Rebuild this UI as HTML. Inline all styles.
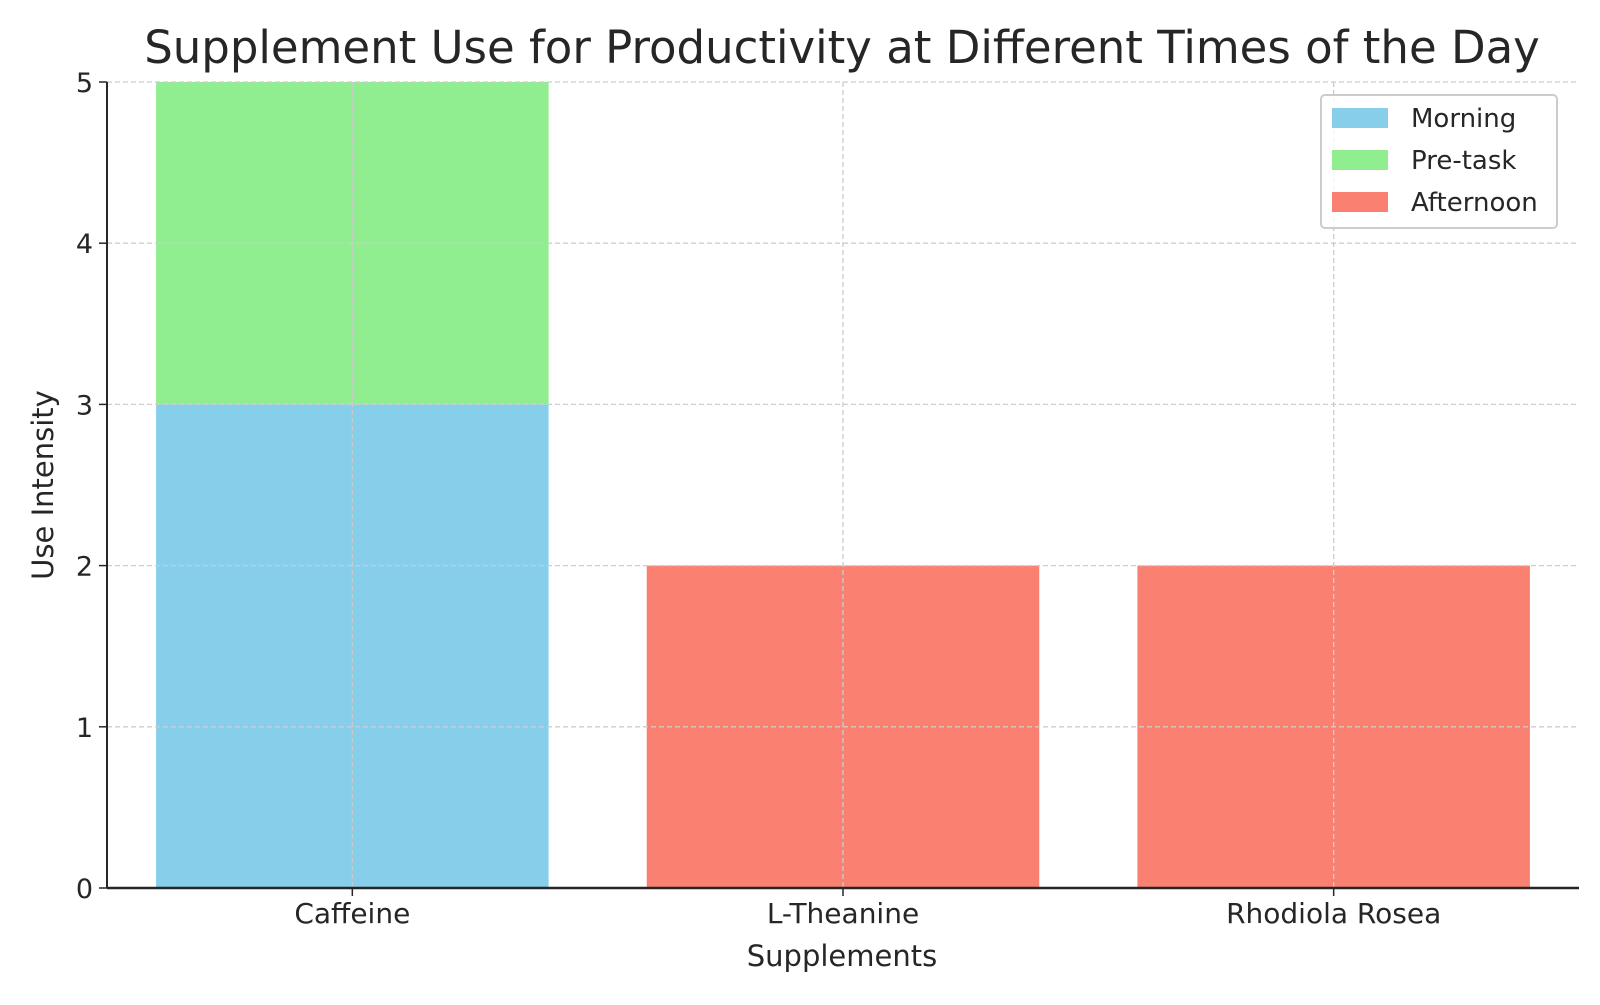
<!DOCTYPE html>
<html><head><meta charset="utf-8"><style>
html,body{margin:0;padding:0;background:#fff;}
svg text{font-family:"DejaVu Sans","Liberation Sans",sans-serif;fill:#262626;}
</style></head><body>
<svg id="chart" width="1600" height="1000" xmlns="http://www.w3.org/2000/svg">
<text x="842" y="63" font-size="45" text-anchor="middle" fill="#333">Supplement Use for Productivity at Different Times of the Day</text>
<g id="bars"></g>
<g id="grid"></g>
<g id="axes"></g>
<text x="842" y="966" font-size="29" text-anchor="middle">Supplements</text>
<text transform="translate(53,485) rotate(-90)" font-size="29" text-anchor="middle">Use Intensity</text>
<g>
<rect x="1321" y="95" width="236" height="133" rx="4" fill="#fff" fill-opacity="0.8" stroke="#ccc" stroke-width="2"/>
<rect x="1332" y="108" width="56" height="20" fill="#87CEEB"/>
<text x="1411" y="127" font-size="26">Morning</text>
<rect x="1332" y="150" width="56" height="20" fill="#90EE90"/>
<text x="1411" y="169" font-size="26">Pre-task</text>
<rect x="1332" y="192" width="56" height="20" fill="#FA8072"/>
<text x="1411" y="211" font-size="26">Afternoon</text>
</g>
</svg>
<script>
const categories = ["Caffeine", "L-Theanine", "Rhodiola Rosea"];
const morning = [3, 0, 0];
const pretask = [2, 0, 0];
const afternoon = [0, 2, 2];
const yTicks = [0, 1, 2, 3, 4, 5];

const NS = "http://www.w3.org/2000/svg";
const plotLeft = 107, plotRight = 1579, plotTop = 82, plotBottom = 888, yMax = 5;
const band = (plotRight - plotLeft) / categories.length;
const xPos = i => plotLeft + band * (i + 0.5);
const yPos = v => plotBottom - (v / yMax) * (plotBottom - plotTop);
const barW = band * 0.8;
function mk(tag, attrs, parent) {
  const e = document.createElementNS(NS, tag);
  for (const k in attrs) e.setAttribute(k, attrs[k]);
  parent.appendChild(e);
  return e;
}
const gridG = document.getElementById('grid');
const barsG = document.getElementById('bars');
const axesG = document.getElementById('axes');
yTicks.forEach(t => {
  const gl = mk('line', {x1: plotLeft, x2: plotRight, y1: yPos(t), y2: yPos(t), stroke: '#ccc', 'stroke-width': 1.3, 'stroke-dasharray': '5,3'}, gridG);
  
  
  const tk = mk('line', {x1: plotLeft - 8, x2: plotLeft, y1: yPos(t), y2: yPos(t), stroke: '#262626', 'stroke-width': 1.5}, axesG);
  
  
  const tl = mk('text', {x: plotLeft - 14, y: yPos(t) + 10, 'font-size': 27, 'text-anchor': 'end'}, axesG);
  tl.textContent = t;
  
  
});
const seriesList = [[morning, '#87CEEB', 'morning'], [pretask, '#90EE90', 'pretask'], [afternoon, '#FA8072', 'afternoon']];
categories.forEach((c, i) => {
  let base = 0;
  seriesList.forEach(([vals, col, nm]) => {
    const v = vals[i];
    if (v > 0) {
      const r = mk('rect', {x: xPos(i) - barW / 2, y: yPos(base + v), width: barW, height: yPos(base) - yPos(base + v), fill: col}, barsG);
      
      
    }
    base += v;
  });
});
categories.forEach((c, i) => {
  const gl = mk('line', {x1: xPos(i), x2: xPos(i), y1: plotTop, y2: plotBottom, stroke: '#ccc', 'stroke-width': 1.3, 'stroke-dasharray': '5,3'}, gridG);
  
  
  const tk = mk('line', {x1: xPos(i), x2: xPos(i), y1: plotBottom, y2: plotBottom + 8, stroke: '#262626', 'stroke-width': 1.5}, axesG);
  
  
  const tl = mk('text', {x: xPos(i), y: plotBottom + 35, 'font-size': 28, 'text-anchor': 'middle'}, axesG);
  tl.textContent = c;
  
  
});
const xa = mk('line', {x1: plotLeft, x2: plotRight, y1: plotBottom, y2: plotBottom, stroke: '#262626', 'stroke-width': 2.5}, axesG);


const ya = mk('line', {x1: plotLeft, x2: plotLeft, y1: plotTop, y2: plotBottom, stroke: '#262626', 'stroke-width': 2}, axesG);


</script>
</body></html>
